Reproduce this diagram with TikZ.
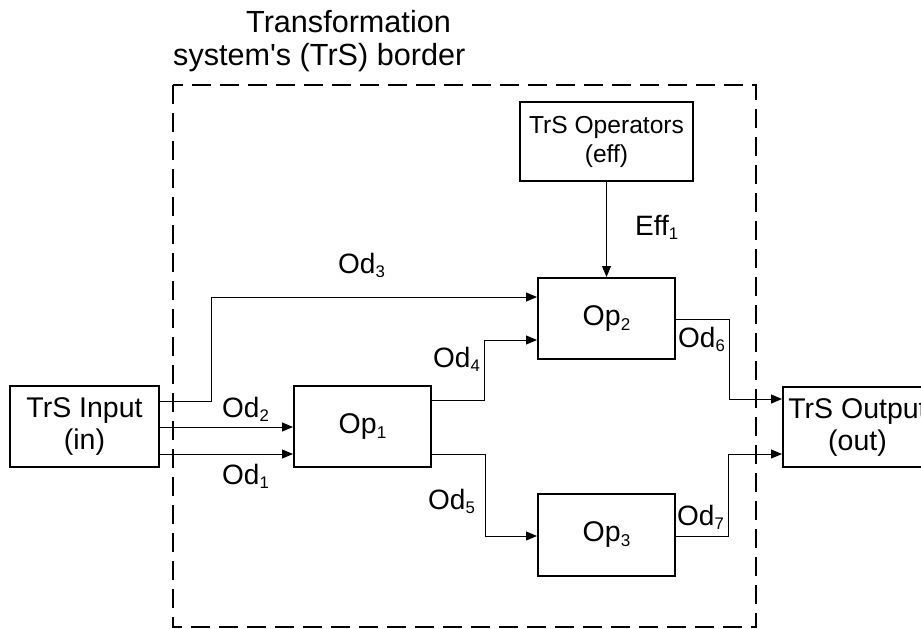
\documentclass[tikz,border=0pt]{standalone}
\usepackage{fontspec}
\setmainfont{Liberation Sans}
\newfontfamily\plainfont{Liberation Sans}
\usetikzlibrary{arrows.meta}
\newcommand\sbs[1]{\raisebox{-0.17em}{\scalebox{0.6}{#1}}}
\begin{document}
\begin{tikzpicture}[x=1pt,y=-1pt,
  box/.style={draw, line width=2pt, inner sep=0pt, align=center,
    font=\fontsize{28.5}{32}\selectfont},
  opbox/.style={box, minimum width=137pt, minimum height=81pt},
  conn/.style={line width=1pt, -{Triangle[length=11pt,width=9pt]}},
  lbl/.style={inner sep=0pt, anchor=base west, font=\fontsize{28}{32}\selectfont},
  border/.style={line width=2.5pt, dash pattern=on 19pt off 9pt}]
\useasboundingbox (0,0) rectangle (921,629);
\clip (0,0) rectangle (921,629);
% system border
\draw[border] (173,85) rectangle (756,627);
\node[inner sep=0pt, anchor=north west, align=left,
  font=\plainfont\fontsize{30.6}{33}\selectfont] (title) at (173,10)
  {\hspace*{73pt}Transformation\\system's (TrS) border};
% boxes
\node[box, minimum width=149pt, minimum height=81pt] (in) at (84.5,426.5) {TrS Input\\(in)};
\node[opbox] (op1) at (362.5,426.5) {Op\sbs{1}};
\node[opbox] (op2) at (606.5,318.5) {Op\sbs{2}};
\node[opbox, minimum height=82pt] (op3) at (606.5,535) {Op\sbs{3}};
\node[box, minimum width=173pt, minimum height=79pt,
  font=\fontsize{24.6}{29}\selectfont] (eff) at (606.5,141.5) {TrS Operators\\(eff)};
\node[box, minimum width=149pt, minimum height=80pt] (out) at (857.5,427) {TrS Output\\(out)};
% connectors
\draw[conn] (in.east |- 0,401) -- (211,401) -- (211,297) -- (op2.west |- 0,297);
\draw[conn] (in.east |- 0,427) -- (op1.west |- 0,427);
\draw[conn] (in.east |- 0,454) -- (op1.west |- 0,454);
\draw[conn] (op1.east |- 0,400) -- (484,400) -- (484,340) -- (op2.west |- 0,340);
\draw[conn] (op1.east |- 0,454) -- (485,454) -- (485,536) -- (op3.west |- 0,536);
\draw[conn] (op2.east |- 0,319) -- (729,319) -- (729,399) -- (out.west |- 0,399);
\draw[conn] (op3.east |- 0,536) -- (728,536) -- (728,454) -- (out.west |- 0,454);
\draw[conn] (eff.south) -- (op2.north);
% labels
\node[lbl] (l3) at (338,273) {Od\sbs{3}};
\node[lbl] (l2) at (222,417) {Od\sbs{2}};
\node[lbl] (l1) at (222,484) {Od\sbs{1}};
\node[lbl] (l4) at (433,367) {Od\sbs{4}};
\node[lbl] (l5) at (428,509) {Od\sbs{5}};
\node[lbl] (l6) at (678,347) {Od\sbs{6}};
\node[lbl] (l7) at (677,525) {Od\sbs{7}};
\node[lbl] (le) at (635,235) {Eff\sbs{1}};
\end{tikzpicture}
\end{document}
